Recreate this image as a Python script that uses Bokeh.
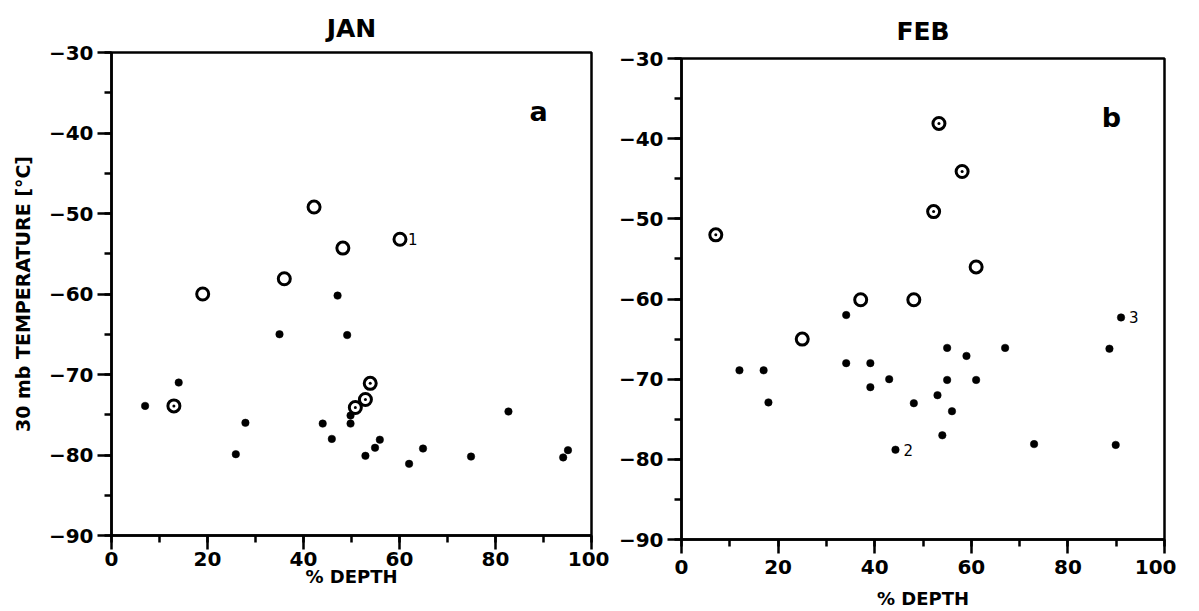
from bokeh.plotting import figure
from bokeh.layouts import row, column
from bokeh.models import Range1d, SingleIntervalTicker, Label
from bokeh.core.properties import value
from bokeh.embed import file_html
from bokeh.resources import INLINE

# ---------------- data ----------------
# JAN panel (a)
jan_open_x = [19.0, 36.0, 42.2, 48.2, 60.1]
jan_open_y = [-60.0, -58.1, -49.2, -54.3, -53.2]
jan_dot_x = [13.0, 50.8, 52.9, 53.9]
jan_dot_y = [-73.9, -74.1, -73.1, -71.1]
jan_fill_x = [7.0, 14.0, 27.9, 25.9, 35.0, 44.0, 45.9, 47.1, 49.1, 49.8,
              49.8, 52.9, 54.9, 55.9, 62.0, 64.9, 74.9, 82.7, 94.1, 95.1]
jan_fill_y = [-73.9, -71.0, -76.0, -79.9, -65.0, -76.1, -78.0, -60.2, -65.1, -76.1,
              -75.1, -80.1, -79.1, -78.1, -81.1, -79.2, -80.2, -74.6, -80.3, -79.4]
jan_note_x = [60.1]
jan_note_y = [-53.2]
jan_note_text = ["1"]

# FEB panel (b)
feb_open_x = [61.0, 37.1, 48.1, 25.0]
feb_open_y = [-56.0, -60.1, -60.1, -65.0]
feb_dot_x = [53.3, 58.1, 52.2, 7.1]
feb_dot_y = [-38.1, -44.1, -49.1, -52.0]
feb_fill_x = [34.1, 55.0, 67.0, 88.6, 59.0, 12.0, 17.0, 34.1, 39.1, 43.0, 39.1,
              55.0, 61.0, 18.0, 48.1, 53.0, 56.0, 54.0, 44.3, 73.0, 89.9, 91.0]
feb_fill_y = [-62.0, -66.1, -66.1, -66.2, -67.1, -68.9, -68.9, -68.0, -68.0, -70.0, -71.0,
              -70.1, -70.1, -72.9, -73.0, -72.0, -74.0, -77.0, -78.8, -78.1, -78.2, -62.3]
feb_note_x = [44.3, 91.0]
feb_note_y = [-78.8, -62.3]
feb_note_text = ["2", "3"]

x_tick_values = [0, 20, 40, 60, 80, 100]
x_tick_labels = ["0", "20", "40", "60", "80", "100"]
y_tick_values = [-90, -80, -70, -60, -50, -40, -30]
y_tick_labels = ["\u221290", "\u221280", "\u221270", "\u221260", "\u221250", "\u221240", "\u221230"]

FONT = "DejaVu Sans"


def make_panel(title, letter, open_x, open_y, dot_x, dot_y, fill_x, fill_y,
               note_x, note_y, note_text, ylabel, border_left, border_top,
               border_right, frame_w, frame_h, border_bottom, tick_standoff,
               xlabel_standoff, title_standoff):
    p = figure(output_backend="svg", toolbar_location=None,
               frame_width=frame_w, frame_height=frame_h,
               min_border_left=border_left, min_border_right=border_right,
               min_border_top=border_top, min_border_bottom=border_bottom,
               x_range=Range1d(0, 100), y_range=Range1d(-90, -30),
               background_fill_color="white", border_fill_color="white")
    p.grid.visible = False
    p.outline_line_color = "black"
    p.outline_line_width = 2.5

    p.title.text = title
    p.title.align = "center"
    p.title.text_font = FONT
    p.title.text_font_size = "25px"
    p.title.text_font_style = "bold"
    p.title.text_color = "black"
    p.title.standoff = title_standoff

    p.xaxis.ticker = SingleIntervalTicker(interval=20, num_minor_ticks=2)
    p.yaxis.ticker = SingleIntervalTicker(interval=10, num_minor_ticks=2)
    p.xaxis.major_label_overrides = dict(zip(x_tick_values, x_tick_labels))
    p.yaxis.major_label_overrides = dict(zip(y_tick_values, y_tick_labels))

    for ax in (p.xaxis[0], p.yaxis[0]):
        ax.axis_line_width = 2.5
        ax.major_tick_line_width = 2.5
        ax.minor_tick_line_width = 2.5
        ax.major_tick_in = 0
        ax.major_tick_out = 14
        ax.minor_tick_in = 0
        ax.minor_tick_out = 7
        ax.major_label_text_font = FONT
        ax.major_label_text_font_style = "bold"
        ax.major_label_text_font_size = "20px"
        ax.major_label_text_color = "black"
        ax.axis_label_text_font = FONT
        ax.axis_label_text_font_style = "bold"
        ax.axis_label_text_font_size = "18px"
        ax.axis_label_text_color = "black"
    p.xaxis.major_label_standoff = tick_standoff
    p.yaxis.major_label_standoff = 4
    p.xaxis.axis_label = "% DEPTH"
    p.xaxis.axis_label_standoff = xlabel_standoff
    if ylabel:
        p.yaxis.axis_label = ylabel
        p.yaxis.axis_label_standoff = 12
        p.yaxis.axis_label_text_font_size = "19px"

    # plain open circles
    p.scatter(open_x, open_y, marker="circle", size=12, fill_color="white",
              line_color="black", line_width=3)
    # open circles with centre dot
    p.scatter(dot_x, dot_y, marker="circle", size=12, fill_color="white",
              line_color="black", line_width=3)
    p.scatter(dot_x, dot_y, marker="circle", size=3, fill_color="black",
              line_color="black", line_width=0)
    # filled dots
    p.scatter(fill_x, fill_y, marker="circle", size=7.5, fill_color="black",
              line_color="black", line_width=0.5)
    # numbered notes
    p.text(note_x, note_y, text=note_text, x_offset=8, text_baseline="middle",
           text_align="left", text_font=value(FONT), text_font_size="15px",
           text_color="black")

    p.add_layout(Label(x=89, y=-37.3, text=letter, text_font=FONT,
                       text_font_size="27px", text_font_style="bold",
                       text_align="center", text_baseline="middle",
                       text_color="black"))
    return p


p1 = make_panel("JAN", "a", jan_open_x, jan_open_y, jan_dot_x, jan_dot_y,
                jan_fill_x, jan_fill_y, jan_note_x, jan_note_y, jan_note_text,
                "30 mb TEMPERATURE [\u00b0C]", border_left=111, border_top=52,
                border_right=18, frame_w=480, frame_h=483, border_bottom=66,
                tick_standoff=2, xlabel_standoff=-3, title_standoff=20)

p2 = make_panel("FEB", "b", feb_open_x, feb_open_y, feb_dot_x, feb_dot_y,
                feb_fill_x, feb_fill_y, feb_note_x, feb_note_y, feb_note_text,
                None, border_left=72, border_top=58,
                border_right=12, frame_w=483, frame_h=481, border_bottom=70,
                tick_standoff=6, xlabel_standoff=11, title_standoff=26)

layout = row(column(p1), column(p2), spacing=0)
open("out.html", "w").write(file_html(layout, INLINE))
